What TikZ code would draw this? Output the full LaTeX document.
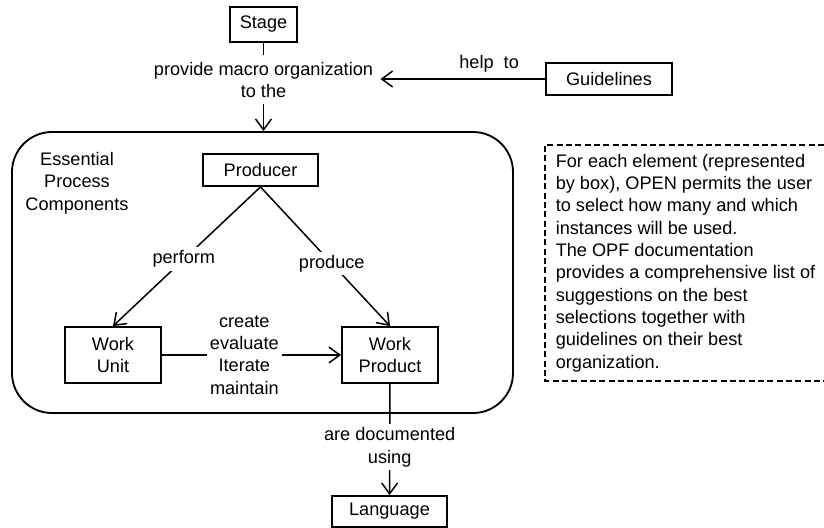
\documentclass[tikz,border=0pt]{standalone}
\usepackage{fontspec}
\setmainfont{Liberation Sans}
\usetikzlibrary{arrows.meta}

\tikzset{
  box/.style={draw, line width=1.1pt, inner sep=0pt, align=center},
  lbl/.style={fill=white, inner sep=2pt, align=center},
  >={Straight Barb[length=6.5pt,width=9.5pt]},
}

\begin{document}
\begin{tikzpicture}[x=.6pt,y=-.6pt,line width=.9pt,
    every node/.style={font=\fontsize{10.9}{13.4}\selectfont}]
  \useasboundingbox (0,0) rectangle (824,528);
  % boxes
  \node (stage) [box, minimum width=40pt, minimum height=21pt] at (263.5,24.5) {Stage};
  \node (guide) [box, minimum width=75.6pt, minimum height=19.2pt] at (609,79) {Guidelines};
  \node (epc) [draw, line width=1.1pt, rounded corners=24pt,
    minimum width=300.6pt, minimum height=168.6pt] at (262.5,272.5) {};
  \node (epctxt) [align=center] at (77,183) {Essential\\Process\\Components};
  \node (producer) [box, minimum width=69pt, minimum height=19.2pt] at (260.5,170) {Producer};
  \node (unit) [box, minimum width=57.6pt, minimum height=33.6pt] at (113,355) {Work\\Unit};
  \node (product) [box, minimum width=57.6pt, minimum height=33.6pt] at (390,355) {Work\\Product};
  \node (lang) [box, minimum width=69pt, minimum height=18.6pt] at (389.5,511.5) {Language};
  % note
  \node (note) [anchor=north west, align=left, inner xsep=6pt, inner ysep=5pt] at (545,145)
    {For each element (represented\\by box), OPEN permits the user\\to select how many and which\\%
     instances will be used.\\The OPF documentation\\provides a comprehensive list of\\%
     suggestions on the best\\selections together with\\guidelines on their best\\organization.};
  \coordinate (edge) at (824,0);
  \draw[line width=1.1pt, dash pattern=on 3.6pt off 2pt]
    (edge |- note.north) -- (note.north west) -- (note.south west) -- (edge |- note.south);
  % connectors
  \draw[->] (stage) -- (stage |- epc.north)
    node (macro) [lbl, inner sep=4pt, pos=.42] {provide macro organization\\to the};
  \draw[->] (guide) -- (guide -| macro.east)
    node [above, pos=.34] {help~ to};
  \draw[->] (producer.south) -- (unit.north) node [lbl, pos=.52] {perform};
  \draw[->] (producer.south) -- (product.north) node [lbl, pos=.55] {produce};
  \draw[->] (unit) -- (product) node [lbl, pos=.46] {create\\evaluate\\Iterate\\maintain};
  \draw[->] (product) -- (lang) node [lbl, pos=.57] {are documented\\using};
\end{tikzpicture}
\end{document}
